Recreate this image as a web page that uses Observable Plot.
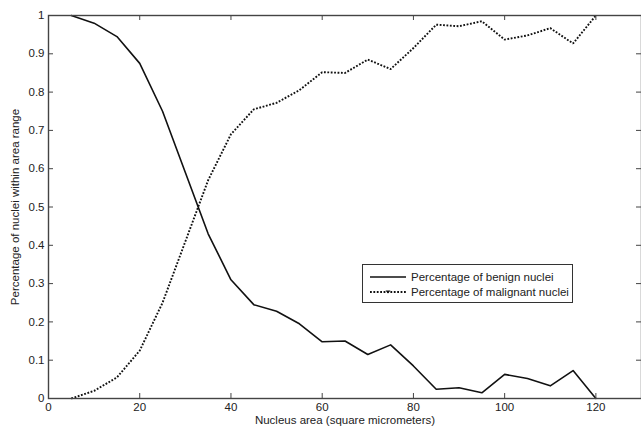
<!DOCTYPE html>
<html><head><meta charset="utf-8">
<script src="https://cdn.jsdelivr.net/npm/d3@7"></script>
<script src="https://cdn.jsdelivr.net/npm/@observablehq/plot@0.6"></script>
<style>
body{margin:0;background:#fff;font-family:"Liberation Sans",Arial,sans-serif;}
#wrap{position:relative;width:641px;height:429px;overflow:hidden;background:#fff;}
#legend{position:absolute;left:362px;top:264px;width:211px;height:39px;border:1.2px solid #333;background:#fff;box-sizing:border-box;font-size:11.5px;color:#222;}
.row{position:absolute;left:0;height:14px;display:flex;align-items:center;}
.row span{margin-left:3px;white-space:nowrap;}
</style>
</head><body>
<div id="wrap"></div>
<script>
// Data
const area = [5,10,15,20,25,30,35,40,45,50,55,60,65,70,75,80,85,90,95,100,105,110,115,120];
const benign = [1.0,0.98,0.945,0.875,0.75,0.59,0.43,0.31,0.245,0.228,0.195,0.148,0.15,0.115,0.14,0.085,0.024,0.028,0.015,0.063,0.052,0.033,0.073,0.0];
const malignant = [0.0,0.02,0.055,0.125,0.25,0.41,0.57,0.69,0.755,0.772,0.805,0.852,0.85,0.885,0.86,0.915,0.976,0.972,0.985,0.937,0.948,0.967,0.927,1.0];
const xTicks = [0,20,40,60,80,100,120];
const xTickLabels = ["0","20","40","60","80","100","120"];
const yTicks = [0,0.1,0.2,0.3,0.4,0.5,0.6,0.7,0.8,0.9,1];
const yTickLabels = ["0","0.1","0.2","0.3","0.4","0.5","0.6","0.7","0.8","0.9","1"];
const seriesNames = ["Percentage of benign nuclei","Percentage of malignant nuclei"];
const xLabel = "Nucleus area (square micrometers)";
const yLabel = "Percentage of nuclei within area range";

const rows = area.map((a,i)=>({area:a, benign:benign[i], malignant:malignant[i]}));

const W = 641, H = 429, mL = 48, mR = 0, mT = 15, mB = 31;
const pw = W - mL - mR, ph = H - mT - mB;
const tk = 5;
const ink = "#444";
const dots = "1.8,1.6";

const chart = Plot.plot({
  width: W, height: H,
  marginLeft: mL, marginRight: mR, marginTop: mT, marginBottom: mB,
  style: {fontFamily: "'Liberation Sans', Arial, sans-serif", fontSize: "11.5px", color: "#222", background: "#fff"},
  x: {domain: [0,130]},
  y: {domain: [0,1]},
  marks: [
    Plot.line(rows, {x: "area", y: "benign", stroke: "#111", strokeWidth: 1.6}),
    Plot.line(rows, {x: "area", y: "malignant", stroke: "#111", strokeWidth: 1.9, strokeDasharray: dots, strokeLinecap: "butt", strokeLinejoin: "miter"}),
    Plot.tickX(xTicks, {x: d => d, insetTop: ph - tk, stroke: ink}),
    Plot.tickX(xTicks, {x: d => d, insetBottom: ph - tk, stroke: ink}),
    Plot.tickY(yTicks, {y: d => d, insetRight: pw - tk, stroke: ink}),
    Plot.tickY(yTicks, {y: d => d, insetLeft: pw - tk, stroke: ink}),
    Plot.frame({stroke: ink, strokeWidth: 1.4}),
    Plot.axisX(xTicks, {tickSize: 0, tickPadding: 4, tickFormat: d => xTickLabels[xTicks.indexOf(d)], label: xLabel, labelAnchor: "center", labelOffset: 25, labelArrow: false, fill: "#222"}),
    Plot.axisY(yTicks, {tickSize: 0, tickPadding: 4, tickFormat: d => yTickLabels[yTicks.indexOf(d)], label: yLabel, labelAnchor: "center", labelOffset: 38, labelArrow: false, fill: "#222"})
  ]
});
document.getElementById("wrap").appendChild(chart);

// Legend (inset box)
const lg = document.createElement("div");
lg.id = "legend";
const rowsTop = [5, 20];
seriesNames.forEach((name, i) => {
  const r = document.createElement("div");
  r.className = "row";
  r.style.top = rowsTop[i] + "px";
  const dash = i === 0 ? "" : `stroke-dasharray="${dots}"`;
  const sw = i === 0 ? 1.6 : 1.9;
  const marker = i === 0 ? "" : '<path d="M22.5,5.5 L27.5,5.5 L25,8.5 Z" fill="#111"/>';
  r.innerHTML = `<svg width="45" height="14"><line x1="7" x2="43" y1="7" y2="7" stroke="#111" stroke-width="${sw}" ${dash}/>${marker}</svg><span>${name}</span>`;
  lg.appendChild(r);
});
document.getElementById("wrap").appendChild(lg);
</script>
</body></html>
